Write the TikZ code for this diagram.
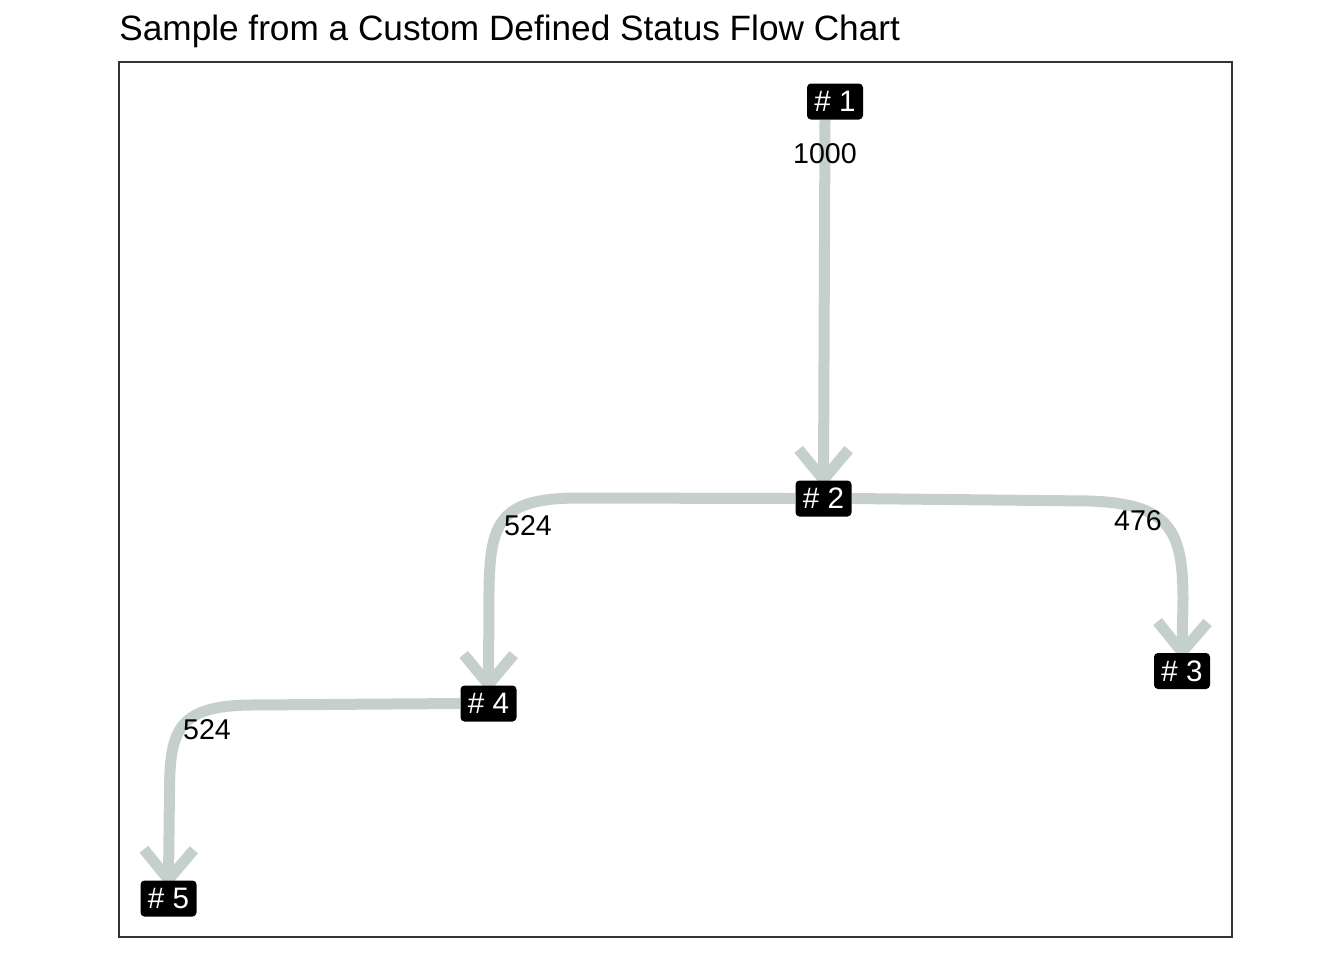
\documentclass[tikz,border=0pt]{standalone}
\usepackage{fontspec}
\setmainfont{Liberation Sans}
\usetikzlibrary{arrows.meta,backgrounds}
\definecolor{edgecol}{RGB}{197,208,204}
\definecolor{framecol}{RGB}{51,51,51}
\begin{document}
\begin{tikzpicture}[x=0.5pt,y=-0.5pt,
  stat/.style={fill=black, text=white, rounded corners=2pt, minimum width=28pt, minimum height=18pt, inner sep=0pt, font=\fontsize{14.8pt}{17pt}\selectfont},
  flow/.style={draw=edgecol, line width=5.5pt, shorten >=-4pt, -{Straight Barb[length=15pt,width=25pt,line cap=butt,line join=miter]}},
  count/.style={font=\fontsize{14.3pt}{17pt}\selectfont, text=black, inner sep=0pt},
  ttl/.style={font=\fontsize{17.6pt}{20pt}\selectfont, text=black, inner sep=0pt, anchor=base west}]
\useasboundingbox (0,0) rectangle (1344,960);
\node[ttl] (title) at (119,40) {Sample from a Custom Defined Status Flow Chart};
\draw[framecol, line width=0.7pt] (119,62) rectangle (1232,937);
\node[stat] (n1) at (835,101.5) {\# 1};
\node[stat] (n2) at (823.5,498.5) {\# 2};
\node[stat] (n3) at (1182,671) {\# 3};
\node[stat] (n4) at (488.5,703.5) {\# 4};
\node[stat] (n5) at (168.5,898.5) {\# 5};
\begin{scope}[on background layer]
\draw[flow] ([xshift=-5pt]n1.south) -- (n2.north);
\draw[flow] (n2.west) -- (575,498) .. controls (500,499) and (490,522) .. (489,590) -- (n4.north);
\draw[flow] (n2.east) -- (1090,501) .. controls (1170,504) and (1183,530) .. (1183,600) -- (n3.north);
\draw[flow] (n4.west) -- (250,705) .. controls (178,706) and (170,730) .. (169.5,790) -- (n5.north);
\end{scope}
\node[count] (l12) at (825,154) {1000};
\node[count] (l24) at (528,526) {524};
\node[count] (l23) at (1138,521) {476};
\node[count] (l45) at (207,730) {524};
\end{tikzpicture}
\end{document}
